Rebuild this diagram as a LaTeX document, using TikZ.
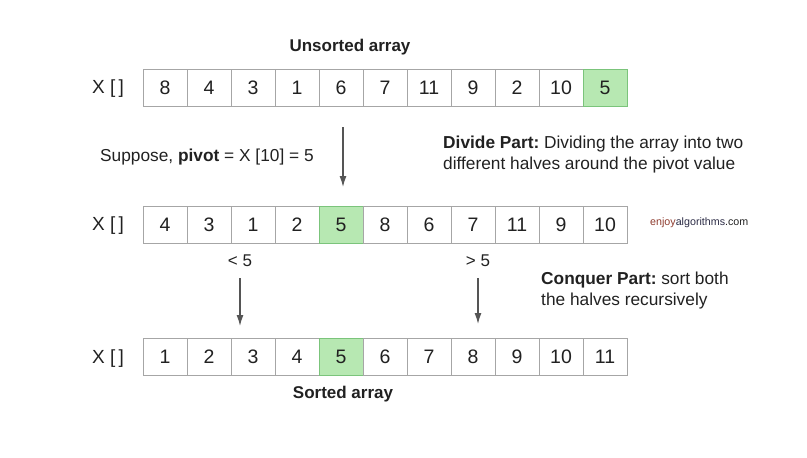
\documentclass[tikz,border=0pt]{standalone}
\usepackage{fontspec}
\setmainfont{Liberation Sans}
\usetikzlibrary{arrows.meta,positioning}
\definecolor{cellgray}{HTML}{A6A6A6}
\definecolor{pivotgreen}{HTML}{B7E8B2}
\definecolor{pivotedge}{HTML}{7BC47B}
\definecolor{inkgray}{HTML}{212121}
\definecolor{arrowgray}{HTML}{555555}
\definecolor{enjoyred}{HTML}{8E3B2E}
\definecolor{algoblue}{HTML}{2B2B45}
\frenchspacing
\tikzset{>={Latex[length=11pt,width=7pt]}}
\tikzset{
  cell/.style={draw=cellgray,line width=1pt,fill=white,minimum width=44pt,minimum height=37pt,inner sep=0pt,font=\fontsize{19.5}{20}\selectfont,text=inkgray},
  pivotcell/.style={cell,draw=pivotedge,fill=pivotgreen},
  arrname/.style={font=\fontsize{19}{20}\selectfont,text=inkgray,inner sep=0pt},
  title/.style={font=\fontsize{17}{18}\selectfont\bfseries,text=inkgray,inner sep=0pt},
  note/.style={font=\fontsize{17.3}{21}\selectfont,text=inkgray,align=left,anchor=west,inner sep=0pt},
  flow/.style={->,draw=arrowgray,line width=1.3pt},
}

\begin{document}
\begin{tikzpicture}[x=1pt,y=-1pt]
\useasboundingbox (0,0) rectangle (807,458);

% unsorted array
\node[title] (unsorted) at (350,47) {Unsorted array};
\node[arrname] (xtop) at (108,89) {X [\,]};
\foreach \v/\s [count=\i] in {8/cell,4/cell,3/cell,1/cell,6/cell,7/cell,11/cell,9/cell,2/cell,10/cell,5/pivotcell}
  \node[\s] (top-\i) at ({143+44*(\i-0.5)},87.5) {\v};

% partitioned array
\node[arrname] (xmid) at (108,226) {X [\,]};
\foreach \v/\s [count=\i] in {4/cell,3/cell,1/cell,2/cell,5/pivotcell,8/cell,6/cell,7/cell,11/cell,9/cell,10/cell}
  \node[\s] (mid-\i) at ({143+44*(\i-0.5)},224.5) {\v};

% sorted array
\node[arrname] (xbot) at (108,358.5) {X [\,]};
\foreach \v/\s [count=\i] in {1/cell,2/cell,3/cell,4/cell,5/pivotcell,6/cell,7/cell,8/cell,9/cell,10/cell,11/cell}
  \node[\s] (bot-\i) at ({143+44*(\i-0.5)},357) {\v};
\node[title] (sorted) at (343,394) {Sorted array};

% divide step
\node[note] (pivot) at (100,157) {Suppose, \textbf{pivot} = X [10] = 5};
\node[note] (divide) at (443,155) {\textbf{Divide Part:} Dividing the array into two\\different halves around the pivot value};
\coordinate (dstart) at (343,127);
\coordinate (dend) at (343,187);
\draw[flow] (dstart) -- (dend);

% conquer step
\node[arrname,font=\fontsize{17}{18}\selectfont] (less) at (240,261) {< 5};
\node[arrname,font=\fontsize{17}{18}\selectfont] (more) at (478,261) {> 5};
\coordinate (lend) at (240,326);
\coordinate (rend) at (478,324);
\draw[flow] ([yshift=-11pt]less.south) -- (lend);
\draw[flow] ([yshift=-11pt]more.south) -- (rend);
\node[note] (conquer) at (541,291) {\textbf{Conquer Part:} sort both\\the halves recursively};

% watermark
\node[anchor=west,inner sep=0pt,font=\fontsize{10.7}{12}\selectfont] (site) at (650,223)
  {\textcolor{enjoyred}{enjoy}\textcolor{algoblue}{algorithms}\textcolor{inkgray}{.com}};
\end{tikzpicture}
\end{document}
